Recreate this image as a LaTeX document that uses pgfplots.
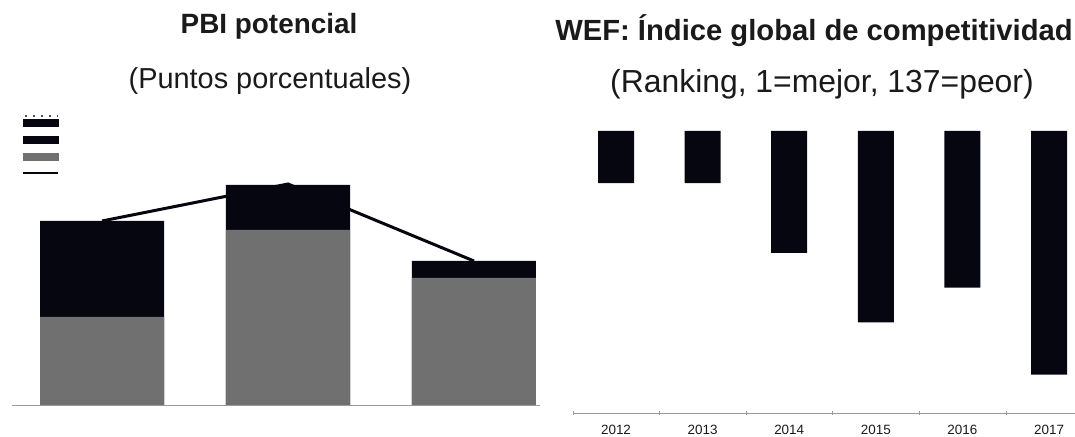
\documentclass[border=0pt]{standalone}
\usepackage{fontspec}
\setmainfont{Liberation Sans}
\usepackage{pgfplots}
\pgfplotsset{compat=1.18}
\definecolor{barblack}{HTML}{060610}
\definecolor{bargray}{HTML}{707070}
\definecolor{axisgray}{HTML}{9A9A9A}
\definecolor{titlec}{HTML}{1A1A1A}

\begin{document}
\begin{tikzpicture}[x=1bp,y=1bp]
\useasboundingbox (0,0) rectangle (1075,437);

% titles
\node[text=titlec, font=\fontsize{28}{32}\selectfont\bfseries] at (269,411) {PBI potencial};
\node[text=titlec, font=\fontsize{29}{33}\selectfont] at (270,356) {(Puntos porcentuales)};
\node[text=titlec, font=\fontsize{29.3}{33}\selectfont\bfseries] at (814,406) {WEF: Índice global de competitividad};
\node[text=titlec, font=\fontsize{32}{36}\selectfont] at (822,353) {(Ranking, 1=mejor, 137=peor)};

% left: PBI potencial
\begin{axis}[
    at={(12bp,32bp)}, anchor=south west,
    scale only axis, width=528bp, height=240bp,
    xmin=-0.484, xmax=2.355,
    ymin=0, ymax=6,
    axis x line=bottom, axis y line=none,
    x axis line style={axisgray, -},
    xtick=\empty, ytick=\empty,
    legend style={draw=none, fill=none, inner sep=0pt,
        at={(0.019,1.212)}, anchor=north west,
        row sep=0pt, nodes={inner sep=0pt}},
]
    % total (black) drawn first, grey part over it
    \addplot[ybar, bar width=124bp, bar shift=0pt, fill=barblack, draw=none, forget plot]
        coordinates {(0,4.6) (1,5.5) (2,3.6)};
    \addplot[ybar, bar width=124bp, bar shift=0pt, fill=bargray, draw=none, forget plot]
        coordinates {(0,2.2) (1,4.375) (2,3.175)};
    \addplot[barblack, line width=3bp, forget plot]
        coordinates {(0,4.6) (1,5.525) (2,3.6)};

    \addlegendimage{legend image code/.code={
        \path[draw=none, fill=none] (0bp,-8.4bp) rectangle (35bp,8.4bp);
        \fill[barblack] (0bp,-3.3bp) rectangle (35bp,3.3bp);
        \draw[barblack!70, line width=1.5bp, dash pattern=on 2bp off 6bp] (2bp,6.5bp) -- (35bp,6.5bp);}}
    \addlegendentry{}
    \addlegendimage{legend image code/.code={
        \path[draw=none, fill=none] (0bp,-8.4bp) rectangle (35bp,8.4bp);
        \fill[barblack] (0bp,-3.5bp) rectangle (35bp,3.5bp);}}
    \addlegendentry{}
    \addlegendimage{legend image code/.code={
        \path[draw=none, fill=none] (0bp,-8.4bp) rectangle (35bp,8.4bp);
        \fill[bargray] (0bp,-3.5bp) rectangle (35bp,3.5bp);}}
    \addlegendentry{}
    \addlegendimage{legend image code/.code={
        \path[draw=none, fill=none] (0bp,-8.4bp) rectangle (35bp,8.4bp);
        \draw[barblack, line width=2.5bp] (0bp,0bp) -- (35bp,0bp);}}
    \addlegendentry{}
\end{axis}

% right: WEF ranking
\begin{axis}[
    at={(572.7bp,24bp)}, anchor=south west,
    scale only axis, width=502.3bp, height=282bp,
    xmin=-0.5, xmax=5.3,
    ymin=58, ymax=74.2, y dir=reverse,
    axis x line=bottom, axis y line=none,
    x axis line style={axisgray, -},
    xtick={0,1,2,3,4,5},
    xticklabels={2012,2013,2014,2015,2016,2017},
    major tick length=0pt,
    minor xtick={-0.5,0.5,1.5,2.5,3.5,4.5},
    minor tick length=4bp,
    minor tick style={axisgray},
    ytick=\empty,
    xticklabel style={font=\fontsize{13.5}{15}\selectfont, text=titlec, yshift=-9bp},
]
    \addplot[ybar, bar width=36bp, bar shift=0pt, fill=barblack, draw=none]
        coordinates {(0,61) (1,61) (2,65) (3,69) (4,67) (5,72)};
\end{axis}
\end{tikzpicture}
\end{document}
